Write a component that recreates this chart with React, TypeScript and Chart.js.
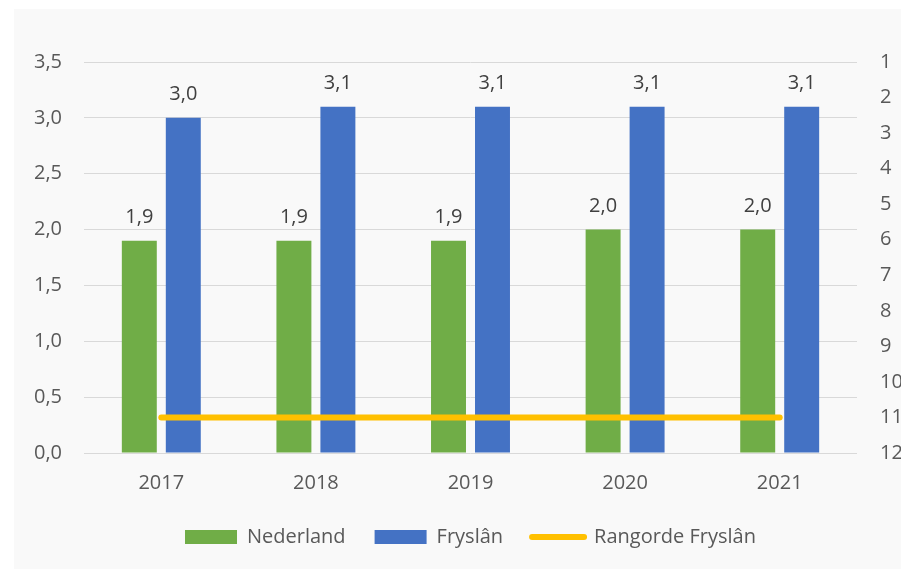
import React, { useEffect, useRef } from "react";
import { Chart, registerables } from "chart.js";

Chart.register(...registerables);

const categories = ["2017", "2018", "2019", "2020", "2021"];
const nederland = [1.9, 1.9, 1.9, 2.0, 2.0];
const fryslan = [3.0, 3.1, 3.1, 3.1, 3.1];
const rangorde = [11, 11, 11, 11, 11];
const seriesNames = ["Nederland", "Fryslân", "Rangorde Fryslân"];

const FONT = '"Open Sans", "Noto Sans", sans-serif';
const TEXT = "#595959";

const fmt = (v: number) => v.toFixed(1).replace(".", ",");

const valueLabels = {
  id: "valueLabels",
  afterDatasetsDraw(chart: any) {
    const ctx = chart.ctx;
    chart.data.datasets.forEach((ds: any, i: number) => {
      if (ds.type !== "bar") return;
      const meta = chart.getDatasetMeta(i);
      meta.data.forEach((el: any, j: number) => {
        ctx.save();
        ctx.font = `20px ${FONT}`;
        ctx.fillStyle = "#404040";
        ctx.textAlign = "center";
        ctx.textBaseline = "alphabetic";
        ctx.fillText(fmt(ds.data[j]), el.x, el.y - 18);
        ctx.restore();
      });
    });
  },
};

export default function App() {
  const ref = useRef<HTMLCanvasElement | null>(null);

  useEffect(() => {
    if (!ref.current) return;
    const chart = new Chart(ref.current, {
      type: "bar",
      data: {
        labels: categories,
        datasets: [
          {
            type: "bar",
            label: seriesNames[0],
            data: nederland,
            backgroundColor: "#70ad47",
            borderWidth: 0,
            yAxisID: "y",
            order: 0,
          },
          {
            type: "bar",
            label: seriesNames[1],
            data: fryslan,
            backgroundColor: "#4472c4",
            borderWidth: 0,
            yAxisID: "y",
            order: 0,
          },
          {
            type: "line",
            label: seriesNames[2],
            data: rangorde,
            borderColor: "#ffc000",
            backgroundColor: "#ffc000",
            borderWidth: 6,
            borderCapStyle: "round",
            pointRadius: 0,
            fill: false,
            yAxisID: "y1",
            order: -1,
          },
        ] as any,
      },
      options: {
        responsive: false,
        animation: false,
        devicePixelRatio: 1,
        layout: { padding: { top: 53, bottom: 12, left: 0, right: 0 } },
        datasets: {
          bar: { categoryPercentage: 0.569, barPercentage: 0.795 },
        } as any,
        plugins: {
          tooltip: { enabled: false },
          legend: {
            position: "bottom",
            fullSize: false,
            labels: {
              color: TEXT,
              font: { family: FONT, size: 20 },
              usePointStyle: true,
              pointStyleWidth: 52,
              boxHeight: 14,
              padding: 29,
              generateLabels: (chart: any) => {
                const items = Chart.defaults.plugins.legend.labels.generateLabels(chart);
                return items
                  .sort((a: any, b: any) => a.datasetIndex - b.datasetIndex)
                  .map((it: any) => {
                    const ds: any = chart.data.datasets[it.datasetIndex];
                    if (ds.type === "line") {
                      return {
                        ...it,
                        pointStyle: "line",
                        lineWidth: 6,
                        lineCap: "round",
                        strokeStyle: ds.borderColor,
                        fillStyle: ds.borderColor,
                      };
                    }
                    return {
                      ...it,
                      pointStyle: "rect",
                      lineWidth: 0,
                      fillStyle: ds.backgroundColor,
                      strokeStyle: ds.backgroundColor,
                    };
                  });
              },
            },
          },
        },
        scales: {
          x: {
            type: "category",
            offset: true,
            grid: { display: false, drawTicks: false },
            border: { display: false },
            ticks: { color: TEXT, font: { family: FONT, size: 20 }, padding: 18, maxRotation: 0 },
            afterFit: (s: any) => {
              s.height = 45;
            },
          },
          y: {
            position: "left",
            min: 0,
            max: 3.5,
            grid: { color: "#d9d9d9", lineWidth: 1, drawTicks: false },
            border: { display: false },
            ticks: {
              stepSize: 0.5,
              color: TEXT,
              font: { family: FONT, size: 20 },
              padding: 22,
              callback: (v: any) => fmt(Number(v)),
            },
            afterFit: (s: any) => {
              s.width = 70;
            },
          },
          y1: {
            position: "right",
            min: 1,
            max: 12,
            reverse: true,
            grid: { display: false, drawTicks: false },
            border: { display: false },
            ticks: {
              stepSize: 1,
              color: TEXT,
              font: { family: FONT, size: 20 },
              padding: 23,
              callback: (v: any) => String(v),
            },
            afterFit: (s: any) => {
              s.width = 57;
            },
          },
        },
      } as any,
      plugins: [valueLabels],
    });
    return () => chart.destroy();
  }, []);

  return (
    <div
      style={{
        position: "absolute",
        left: 14,
        top: 9,
        width: 887,
        height: 560,
        background: "#f9f9f9",
        overflow: "hidden",
      }}
    >
      <canvas ref={ref} width={900} height={560} style={{ display: "block" }} />
    </div>
  );
}
